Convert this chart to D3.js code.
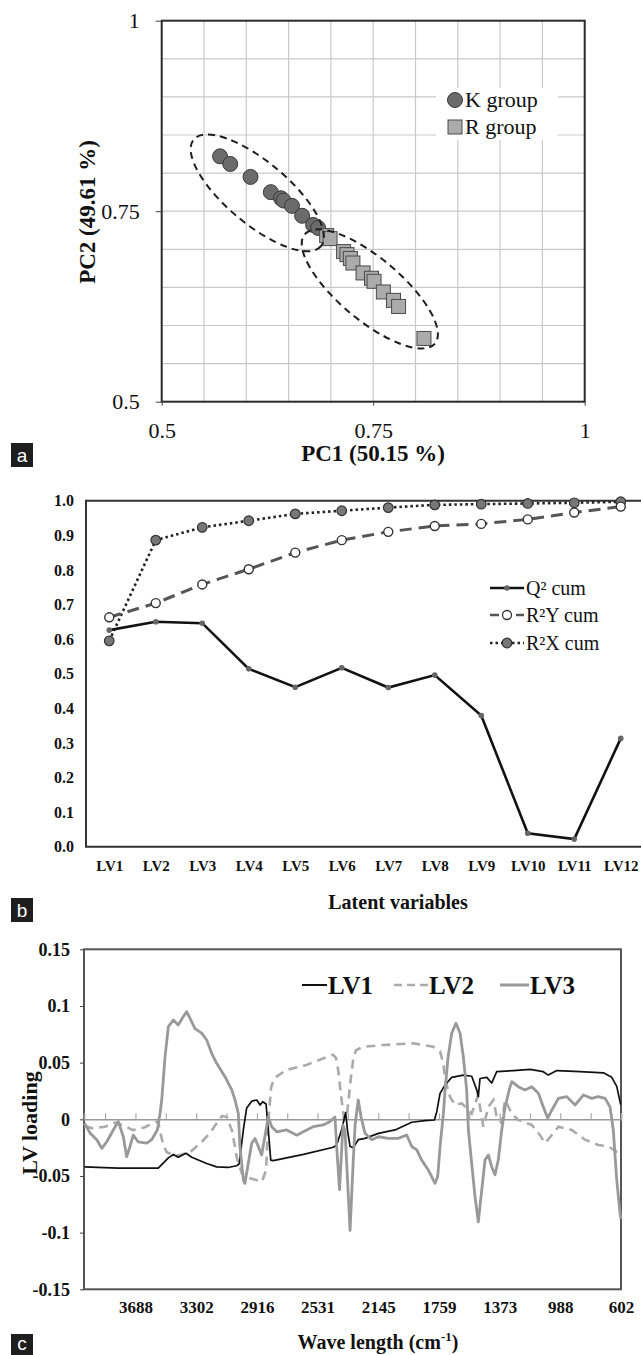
<!DOCTYPE html>
<html>
<head>
<meta charset="utf-8">
<script src="https://cdn.jsdelivr.net/npm/d3@7"></script>
<style>
body { margin: 0; background: #fff; }
svg { display: block; }
</style>
</head>
<body>
<div id="fig"></div>
<script>
// ---- panel a : PCA scores ----
var kGroupX = [0.569, 0.581, 0.605, 0.629, 0.641, 0.644, 0.654, 0.666, 0.679, 0.685];
var kGroupY = [0.822, 0.812, 0.795, 0.775, 0.767, 0.764, 0.757, 0.744, 0.732, 0.728];
var rGroupX = [0.695, 0.699, 0.715, 0.719, 0.723, 0.726, 0.738, 0.748, 0.751, 0.762, 0.774, 0.780, 0.810];
var rGroupY = [0.718, 0.714, 0.697, 0.693, 0.688, 0.682, 0.669, 0.662, 0.658, 0.644, 0.633, 0.625, 0.583];
var groupCentres = [[0.613, 0.774], [0.746, 0.648]];

// ---- panel b : cumulative Q2 / R2 ----
var lvNames = ["LV1", "LV2", "LV3", "LV4", "LV5", "LV6", "LV7", "LV8", "LV9", "LV10", "LV11", "LV12"];
var q2Cum  = [0.626, 0.650, 0.646, 0.514, 0.461, 0.517, 0.460, 0.496, 0.379, 0.039, 0.022, 0.313];
var r2yCum = [0.663, 0.704, 0.758, 0.802, 0.850, 0.886, 0.910, 0.927, 0.933, 0.946, 0.966, 0.983];
var r2xCum = [0.595, 0.886, 0.923, 0.942, 0.962, 0.971, 0.980, 0.988, 0.990, 0.992, 0.994, 0.997];

// ---- panel c : loadings [wave number, loading] ----
var lv1Loading = [[4012,-0.042],[3800,-0.043],[3650,-0.043],[3543,-0.043],[3479,-0.034],[3447,-0.031],[3416,-0.0335],
  [3367,-0.030],[3330,-0.0335],[3235,-0.039],[3172,-0.042],[3100,-0.0425],[3044,-0.041],[3028,-0.039],[3002,-0.009],
  [2981,0.010],[2949,0.016],[2917,0.017],[2896,0.0126],[2879,0.0155],[2858,0.0135],[2844,-0.009],[2828,-0.036],
  [2812,-0.0365],[2620,-0.031],[2430,-0.0247],[2409,-0.0227],[2377,-0.009],[2352,0.006],[2340,-0.01],[2324,-0.024],
  [2303,-0.025],[2272,-0.018],[2229,-0.0168],[2144,-0.0124],[2038,-0.0094],[1932,-0.0026],[1848,-0.0012],[1788,-0.0006],
  [1773,0.0067],[1752,0.0229],[1720,0.0303],[1678,0.037],[1604,0.039],[1551,0.038],[1519,0.026],[1509,0.020],[1498,0.036],
  [1455,0.037],[1424,0.032],[1392,0.042],[1286,0.043],[1180,0.044],[1096,0.042],[1064,0.039],[1010,0.043],[862,0.042],
  [714,0.041],[661,0.037],[629,0.029],[604,0.013]];
var lv2Loading = [[4012,-0.006],[3958,-0.008],[3881,-0.0065],[3818,-0.003],[3754,-0.006],[3704,-0.0095],[3627,-0.007],
  [3576,-0.003],[3545,-0.002],[3511,-0.023],[3489,-0.029],[3437,-0.032],[3405,-0.0315],[3341,-0.029],[3267,-0.020],
  [3214,-0.012],[3172,-0.0035],[3138,0.003],[3108,0.002],[3074,-0.01],[3042,-0.035],[3011,-0.048],[2960,-0.052],
  [2884,-0.055],[2858,-0.045],[2845,-0.005],[2826,0.028],[2807,0.036],[2731,0.0435],[2601,0.048],[2470,0.055],
  [2432,0.057],[2413,0.054],[2399,0.043],[2383,0.023],[2362,0.0],[2343,0.005],[2320,0.035],[2303,0.054],[2286,0.061],
  [2240,0.064],[2113,0.0656],[1922,0.067],[1795,0.064],[1752,0.060],[1731,0.049],[1720,0.035],[1689,0.020],[1657,0.0126],
  [1614,0.014],[1551,0.005],[1511,0.021],[1487,0.002],[1477,-0.0065],[1445,0.011],[1413,0.017],[1392,0.002],[1360,-0.0035],
  [1339,0.017],[1296,0.005],[1255,-0.0006],[1169,-0.005],[1117,-0.014],[1085,-0.021],[1032,-0.0124],[1000,-0.0065],
  [915,-0.0094],[831,-0.018],[746,-0.0227],[682,-0.024],[629,-0.0286],[604,-0.0286]];
var lv3Loading = [[4012,-0.0035],[3977,-0.012],[3934,-0.018],[3902,-0.0256],[3871,-0.020],[3829,-0.0094],[3797,-0.002],
  [3765,-0.0154],[3744,-0.033],[3723,-0.024],[3702,-0.014],[3670,-0.020],[3616,-0.021],[3585,-0.018],[3549,-0.0094],
  [3532,0.005],[3521,0.017],[3500,0.055],[3479,0.0817],[3447,0.0876],[3416,0.0832],[3384,0.0906],[3362,0.095],[3341,0.089],
  [3310,0.080],[3267,0.076],[3235,0.070],[3203,0.058],[3172,0.0494],[3119,0.0376],[3076,0.026],[3055,0.017],[3034,0.005],
  [3024,-0.024],[3002,-0.0536],[2992,-0.0565],[2971,-0.039],[2949,-0.021],[2928,-0.017],[2907,-0.024],[2886,-0.0315],
  [2865,-0.015],[2844,0.002],[2822,-0.0065],[2790,-0.011],[2727,-0.0094],[2663,-0.014],[2600,-0.0094],[2558,-0.0065],
  [2494,-0.005],[2451,-0.002],[2420,0.002],[2409,-0.024],[2391,-0.062],[2369,-0.005],[2356,-0.01],[2324,-0.098],
  [2305,-0.04],[2292,-0.005],[2272,0.017],[2254,0.002],[2229,-0.0124],[2186,-0.018],[2144,-0.0154],[2081,-0.0168],
  [2017,-0.0168],[1964,-0.0139],[1932,-0.024],[1900,-0.027],[1869,-0.036],[1827,-0.0447],[1784,-0.0565],[1767,-0.0506],
  [1752,-0.024],[1731,0.005],[1720,0.026],[1701,0.055],[1678,0.076],[1651,0.0847],[1625,0.076],[1604,0.055],[1583,0.026],
  [1572,-0.0094],[1551,-0.0388],[1530,-0.068],[1509,-0.0904],[1487,-0.0624],[1466,-0.0359],[1445,-0.0315],[1424,-0.0418],
  [1403,-0.049],[1382,-0.0359],[1360,-0.0094],[1339,0.011],[1307,0.0288],[1296,0.0332],[1255,0.0288],[1212,0.0259],
  [1169,0.0288],[1127,0.023],[1096,0.011],[1068,0.001],[1042,0.008],[1000,0.0185],[947,0.020],[894,0.0126],[841,0.0214],
  [788,0.0185],[746,0.020],[703,0.0185],[672,0.011],[651,-0.0094],[629,-0.0536],[608,-0.083],[602,-0.088]];
var waveTicks = [3688, 3302, 2916, 2531, 2145, 1759, 1373, 988, 602];
var loadTicks = [0.15, 0.1, 0.05, 0, -0.05, -0.1, -0.15];

var SERIF = "'Liberation Serif', 'Times New Roman', serif";

var svg = d3.select("#fig").append("svg").attr("width", 641).attr("height", 1355);
svg.append("rect").attr("width", 641).attr("height", 1355).attr("fill", "#fff");

function styleAxis(g, size, weight) {
  g.attr("font-family", SERIF).attr("font-size", size).attr("font-weight", weight);
  g.select(".domain").remove();
  g.selectAll("line").attr("stroke", "#444");
  g.selectAll("text").attr("fill", "#111").attr("font-family", SERIF)
    .attr("font-size", size).attr("font-weight", weight);
}

function panelLabel(letter, x, y, h) {
  svg.append("rect").attr("x", x).attr("y", y).attr("width", 22).attr("height", h).attr("fill", "#1e1e1e");
  svg.append("text").attr("x", x + 11).attr("y", y + h - 5).attr("text-anchor", "middle")
    .attr("font-family", "'Liberation Sans', Arial, sans-serif").attr("font-size", 19).attr("fill", "#fff").text(letter);
}

// ================= panel a =================
var xa = d3.scaleLinear().domain([0.5, 1]).range([161.7, 584.7]);
var ya = d3.scaleLinear().domain([0.5, 1]).range([401.7, 20.7]);
var ga = svg.append("g");
var gridVals = d3.range(0.55, 0.96, 0.05);

ga.selectAll(".gx").data(gridVals).enter().append("line")
  .attr("x1", function (d) { return xa(d); }).attr("x2", function (d) { return xa(d); })
  .attr("y1", ya(0.5)).attr("y2", ya(1)).attr("stroke", "#c9c9c9").attr("stroke-width", 1.2);
ga.selectAll(".gy").data(gridVals).enter().append("line")
  .attr("y1", function (d) { return ya(d); }).attr("y2", function (d) { return ya(d); })
  .attr("x1", xa(0.5)).attr("x2", xa(1)).attr("stroke", "#c9c9c9").attr("stroke-width", 1.2);

// legend background
ga.append("rect").attr("x", 436).attr("y", 88).attr("width", 122).attr("height", 52).attr("fill", "#fff");

ga.append("rect").attr("x", xa(0.5)).attr("y", ya(1)).attr("width", xa(1) - xa(0.5)).attr("height", ya(0.5) - ya(1))
  .attr("fill", "none").attr("stroke", "#2a2a2a").attr("stroke-width", 2);

ga.append("g").attr("transform", "translate(" + xa(0.5) + ",0)")
  .call(d3.axisLeft(ya).tickValues([0.5, 0.75, 1]).tickFormat(function (d) { return String(d); }).tickSize(6).tickPadding(16))
  .call(styleAxis, 22, "normal");
ga.append("g").attr("transform", "translate(0," + ya(0.5) + ")")
  .call(d3.axisBottom(xa).tickValues([0.5, 0.75, 1]).tickFormat(function (d) { return String(d); }).tickSize(4))
  .call(styleAxis, 22, "normal")
  .call(function (g) { g.selectAll("text").attr("y", 36).attr("dy", null); });

ga.append("text").attr("x", 373).attr("y", 461).attr("text-anchor", "middle")
  .attr("font-family", SERIF).attr("font-weight", "bold").attr("font-size", 23).attr("fill", "#111").text("PC1 (50.15 %)");
ga.append("text").attr("transform", "translate(95,212) rotate(-90)").attr("text-anchor", "middle")
  .attr("font-family", SERIF).attr("font-weight", "bold").attr("font-size", 23).attr("fill", "#111").text("PC2 (49.61 %)");

var kPts = kGroupX.map(function (x, i) { return [x, kGroupY[i]]; });
var rPts = rGroupX.map(function (x, i) { return [x, rGroupY[i]]; });

ga.selectAll(".kpt").data(kPts).enter().append("circle")
  .attr("cx", function (d) { return xa(d[0]); }).attr("cy", function (d) { return ya(d[1]); }).attr("r", 7.5)
  .attr("fill", "#6b6b6b").attr("stroke", "#3a3a3a").attr("stroke-width", 1);
ga.selectAll(".rpt").data(rPts).enter().append("rect")
  .attr("x", function (d) { return xa(d[0]) - 7; }).attr("y", function (d) { return ya(d[1]) - 7; })
  .attr("width", 14).attr("height", 14)
  .attr("fill", "#ababab").attr("stroke", "#4a4a4a").attr("stroke-width", 1);

var ellipseSize = [[83, 31], [85, 31]];
ga.selectAll(".ell").data(groupCentres).enter().append("ellipse")
  .attr("transform", function (d) { return "translate(" + xa(d[0]) + "," + ya(d[1]) + ") rotate(40)"; })
  .attr("rx", function (d, i) { return ellipseSize[i][0]; }).attr("ry", function (d, i) { return ellipseSize[i][1]; })
  .attr("fill", "none").attr("stroke", "#1e1e1e").attr("stroke-width", 2).attr("stroke-dasharray", "7,5");

// legend a
ga.append("circle").attr("cx", 455).attr("cy", 100).attr("r", 7.5).attr("fill", "#6b6b6b").attr("stroke", "#3a3a3a");
ga.append("text").attr("x", 465).attr("y", 107).attr("font-family", SERIF).attr("font-size", 22).attr("fill", "#111").text("K group");
ga.append("rect").attr("x", 448).attr("y", 120).attr("width", 14).attr("height", 14).attr("fill", "#ababab").attr("stroke", "#4a4a4a");
ga.append("text").attr("x", 465).attr("y", 134).attr("font-family", SERIF).attr("font-size", 22).attr("fill", "#111").text("R group");

panelLabel("a", 11, 443, 24);

// ================= panel b =================
var xb = d3.scalePoint().domain(lvNames).range([86, 644]).padding(0.5);
var yb = d3.scaleLinear().domain([0, 1]).range([846.7, 500.7]);
var gb = svg.append("g");

gb.append("path").attr("d", "M644," + yb(1) + "H86V" + yb(0) + "H644")
  .attr("fill", "none").attr("stroke", "#333").attr("stroke-width", 2);

gb.append("g").attr("transform", "translate(86,0)")
  .call(d3.axisLeft(yb).tickValues(d3.range(0, 1.01, 0.1)).tickFormat(d3.format(".1f")).tickSize(0).tickPadding(12))
  .call(styleAxis, 16, "bold");
gb.append("g").attr("transform", "translate(0," + yb(0) + ")")
  .call(d3.axisBottom(xb).tickSize(0))
  .call(styleAxis, 15, "bold")
  .call(function (g) { g.selectAll("text").attr("y", 24).attr("dy", null); });

gb.append("text").attr("x", 398).attr("y", 909).attr("text-anchor", "middle")
  .attr("font-family", SERIF).attr("font-weight", "bold").attr("font-size", 20).attr("fill", "#111").text("Latent variables");

var lineB = d3.line().x(function (d, i) { return xb(lvNames[i]); }).y(function (d) { return yb(d); });

gb.append("path").attr("d", lineB(r2xCum)).attr("fill", "none").attr("stroke", "#222")
  .attr("stroke-width", 2.6).attr("stroke-dasharray", "2.5,3");
gb.append("path").attr("d", lineB(r2yCum)).attr("fill", "none").attr("stroke", "#555")
  .attr("stroke-width", 3).attr("stroke-dasharray", "12,7");
gb.append("path").attr("d", lineB(q2Cum)).attr("fill", "none").attr("stroke", "#111").attr("stroke-width", 2.6);

gb.selectAll(".mx").data(r2xCum).enter().append("circle")
  .attr("cx", function (d, i) { return xb(lvNames[i]); }).attr("cy", function (d) { return yb(d); }).attr("r", 4.8)
  .attr("fill", "#777").attr("stroke", "#333").attr("stroke-width", 1.2);
gb.selectAll(".my").data(r2yCum).enter().append("circle")
  .attr("cx", function (d, i) { return xb(lvNames[i]); }).attr("cy", function (d) { return yb(d); }).attr("r", 4.5)
  .attr("fill", "#fff").attr("stroke", "#333").attr("stroke-width", 1.4);
gb.selectAll(".mq").data(q2Cum).enter().append("circle")
  .attr("cx", function (d, i) { return xb(lvNames[i]); }).attr("cy", function (d) { return yb(d); }).attr("r", 2.8)
  .attr("fill", "#666");

// legend b
var legB = [
  { name: "Q\u00b2 cum", y: 588, dash: null, stroke: "#111", fill: "#666", r: 2.8 },
  { name: "R\u00b2Y cum", y: 615, dash: "9,4", stroke: "#555", fill: "#fff", r: 4.5 },
  { name: "R\u00b2X cum", y: 643, dash: "2.5,3", stroke: "#222", fill: "#777", r: 4.8 }
];
legB.forEach(function (d) {
  gb.append("line").attr("x1", 490).attr("x2", 524).attr("y1", d.y).attr("y2", d.y)
    .attr("stroke", d.stroke).attr("stroke-width", 2.6).attr("stroke-dasharray", d.dash);
  gb.append("circle").attr("cx", 507).attr("cy", d.y).attr("r", d.r).attr("fill", d.fill)
    .attr("stroke", d.r > 3 ? "#333" : "none").attr("stroke-width", 1.3);
  gb.append("text").attr("x", 526).attr("y", d.y + 7).attr("font-family", SERIF).attr("font-size", 20)
    .attr("fill", "#111").text(d.name);
});

panelLabel("b", 11, 898, 24);

// ================= panel c =================
var xc = d3.scaleLinear().domain([4015, 602]).range([84, 621]);
var yc = d3.scaleLinear().domain([-0.15, 0.15]).range([1289.3, 949.3]);
var gc = svg.append("g");

gc.append("rect").attr("x", 84).attr("y", yc(0.15)).attr("width", 621 - 84).attr("height", yc(-0.15) - yc(0.15))
  .attr("fill", "none").attr("stroke", "#555").attr("stroke-width", 2);

gc.append("g").attr("transform", "translate(84,0)")
  .call(d3.axisLeft(yc).tickValues(loadTicks).tickFormat(function (d) { return String(d); }).tickSize(4).tickPadding(10))
  .call(styleAxis, 18, "bold");
gc.append("g").attr("transform", "translate(0," + yc(-0.15) + ")")
  .call(d3.axisBottom(xc).tickValues(waveTicks).tickFormat(d3.format("d")).tickSize(0))
  .call(styleAxis, 17, "bold")
  .call(function (g) { g.selectAll("text").attr("y", 24).attr("dy", null); });

// zero line with minor ticks
var minorTicks = waveTicks.concat(d3.pairs(waveTicks).map(function (p) { return (p[0] + p[1]) / 2; }));
minorTicks.push(waveTicks[0] + (waveTicks[0] - waveTicks[1]) / 2);
gc.append("g").attr("transform", "translate(0," + yc(0) + ")")
  .call(d3.axisTop(xc).tickValues(minorTicks).tickSize(6).tickFormat(""))
  .call(function (g) {
    g.select(".domain").attr("stroke", "#999").attr("stroke-width", 1.6);
    g.selectAll("line").attr("stroke", "#aaa").attr("stroke-width", 1.2);
  });

var lineC = d3.line().x(function (d) { return xc(d[0]); }).y(function (d) { return yc(d[1]); });
gc.append("path").attr("d", lineC(lv2Loading)).attr("fill", "none").attr("stroke", "#aaa")
  .attr("stroke-width", 2.6).attr("stroke-dasharray", "9,6");
gc.append("path").attr("d", lineC(lv1Loading)).attr("fill", "none").attr("stroke", "#111")
  .attr("stroke-width", 1.7).attr("stroke-linejoin", "round");
gc.append("path").attr("d", lineC(lv3Loading)).attr("fill", "none").attr("stroke", "#999")
  .attr("stroke-width", 2.8).attr("stroke-linejoin", "round");

// legend c
var legC = [
  { name: "LV1", x1: 302, x2: 327, stroke: "#111", w: 2, dash: null },
  { name: "LV2", x1: 394, x2: 428, stroke: "#aaa", w: 2.6, dash: "8,5" },
  { name: "LV3", x1: 500, x2: 529, stroke: "#999", w: 3, dash: null }
];
legC.forEach(function (d) {
  gc.append("line").attr("x1", d.x1).attr("x2", d.x2).attr("y1", 985).attr("y2", 985)
    .attr("stroke", d.stroke).attr("stroke-width", d.w).attr("stroke-dasharray", d.dash);
  gc.append("text").attr("x", d.x2 + 1).attr("y", 994).attr("font-family", SERIF).attr("font-weight", "bold")
    .attr("font-size", 25).attr("fill", "#111").text(d.name);
});

gc.append("text").attr("transform", "translate(37,1123) rotate(-90)").attr("text-anchor", "middle")
  .attr("font-family", SERIF).attr("font-weight", "bold").attr("font-size", 22).attr("fill", "#111").text("LV loading");

var wl = gc.append("text").attr("x", 378).attr("y", 1349).attr("text-anchor", "middle")
  .attr("font-family", SERIF).attr("font-weight", "bold").attr("font-size", 20).attr("fill", "#111");
wl.append("tspan").text("Wave length (cm");
wl.append("tspan").attr("font-size", 13).attr("dy", -8).text("-1");
wl.append("tspan").attr("dy", 8).text(")");

panelLabel("c", 11, 1334, 21);
</script>
</body>
</html>
